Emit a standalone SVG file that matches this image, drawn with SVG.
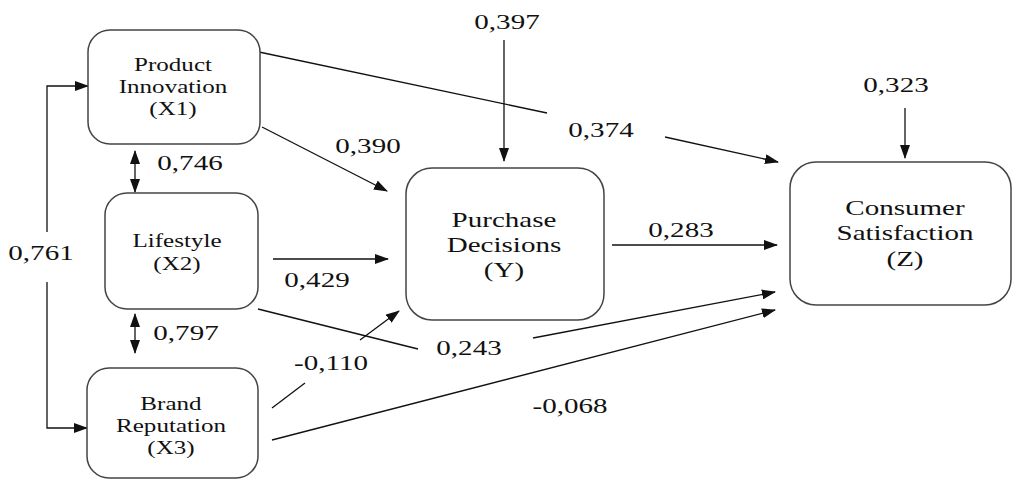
<svg xmlns="http://www.w3.org/2000/svg" width="1013" height="480" viewBox="0 0 1013 480">
<style>
.box{fill:#fff;stroke:#444;stroke-width:1.5}
.ln{fill:none;stroke:#111;stroke-width:1.3}
.t{font-family:"Liberation Serif","Times New Roman",serif;fill:#111;text-anchor:middle}
.s{font-size:19px}
.b{font-size:22px}
.n{font-size:22px}
</style>
<defs>
<marker id="ah" markerUnits="userSpaceOnUse" markerWidth="14" markerHeight="10" refX="13" refY="5" orient="auto-start-reverse">
<path d="M0,0 L14,5 L0,10 Z" fill="#111"/>
</marker>
</defs>
<rect width="1013" height="480" fill="#fff"/>
<g id="connectors">
<line class="ln" x1="504" y1="40" x2="504" y2="161" marker-end="url(#ah)"/>
<line class="ln" x1="905" y1="108" x2="905" y2="158" marker-end="url(#ah)"/>
<line class="ln" x1="259" y1="52" x2="547" y2="113"/>
<line class="ln" x1="665" y1="137" x2="778" y2="162" marker-end="url(#ah)"/>
<line class="ln" x1="262" y1="127" x2="387" y2="191" marker-end="url(#ah)"/>
<line class="ln" x1="135" y1="151" x2="135" y2="192" marker-start="url(#ah)" marker-end="url(#ah)"/>
<line class="ln" x1="135" y1="314" x2="135" y2="353" marker-start="url(#ah)" marker-end="url(#ah)"/>
<polyline class="ln" points="47,232 47,86 88,86" marker-end="url(#ah)"/>
<polyline class="ln" points="47,282 47,428 87,428" marker-end="url(#ah)"/>
<line class="ln" x1="273" y1="259" x2="388" y2="259" marker-end="url(#ah)"/>
<line class="ln" x1="272" y1="408" x2="305" y2="383"/>
<line class="ln" x1="360" y1="340" x2="399" y2="311" marker-end="url(#ah)"/>
<line class="ln" x1="258" y1="309" x2="418" y2="349"/>
<line class="ln" x1="533" y1="338" x2="775" y2="292" marker-end="url(#ah)"/>
<line class="ln" x1="272" y1="440" x2="775" y2="310" marker-end="url(#ah)"/>
<line class="ln" x1="612" y1="245" x2="777" y2="245" marker-end="url(#ah)"/>
<g class="t n">
<text transform="translate(507,29) scale(1.32,1)">0,397</text>
<text transform="translate(896,92) scale(1.32,1)">0,323</text>
<text transform="translate(601,137) scale(1.32,1)">0,374</text>
<text transform="translate(368,153) scale(1.32,1)">0,390</text>
<text transform="translate(190,170) scale(1.32,1)">0,746</text>
<text transform="translate(41,260) scale(1.32,1)">0,761</text>
<text transform="translate(317,287) scale(1.32,1)">0,429</text>
<text transform="translate(186,340) scale(1.32,1)">0,797</text>
<text transform="translate(331,370) scale(1.32,1)">-0,110</text>
<text transform="translate(469,355) scale(1.32,1)">0,243</text>
<text transform="translate(570,413) scale(1.32,1)">-0,068</text>
<text transform="translate(681,237) scale(1.32,1)">0,283</text>
</g>
</g>
<g id="x1">
<rect class="box" x="88" y="30" width="172" height="114" rx="22"/>
<g class="t s" transform="translate(173,0) scale(1.32,1)">
<text x="0" y="71">Product</text>
<text x="0" y="93">Innovation</text>
<text x="0" y="115">(X1)</text>
</g>
</g>
<g id="x2">
<rect class="box" x="105" y="193" width="153" height="116" rx="22"/>
<g class="t s" transform="translate(177,0) scale(1.32,1)">
<text x="0" y="247">Lifestyle</text>
<text x="0" y="270">(X2)</text>
</g>
</g>
<g id="x3">
<rect class="box" x="87" y="368" width="171" height="110" rx="22"/>
<g class="t s" transform="translate(171,0) scale(1.32,1)">
<text x="0" y="410">Brand</text>
<text x="0" y="432">Reputation</text>
<text x="0" y="454">(X3)</text>
</g>
</g>
<g id="y">
<rect class="box" x="406" y="168" width="198" height="152" rx="26"/>
<g class="t b" transform="translate(504,0) scale(1.32,1)">
<text x="0" y="227">Purchase</text>
<text x="0" y="252">Decisions</text>
<text x="0" y="277">(Y)</text>
</g>
</g>
<g id="z">
<rect class="box" x="790" y="162" width="221" height="143" rx="26"/>
<g class="t b" transform="translate(905,0) scale(1.32,1)">
<text x="0" y="215">Consumer</text>
<text x="0" y="240">Satisfaction</text>
<text x="0" y="266">(Z)</text>
</g>
</g>
</svg>
